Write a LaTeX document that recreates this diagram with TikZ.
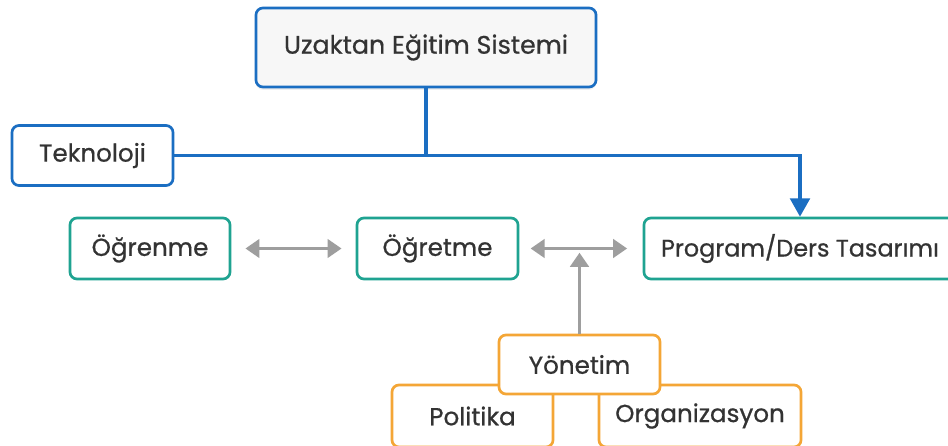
\documentclass[tikz,border=0pt]{standalone}
\usepackage{fontspec}
\setmainfont{Poppins}
\newfontfamily\boxfont{Poppins}[FakeBold=0.7]
\usetikzlibrary{positioning,arrows.meta,shadows}

\definecolor{sysblue}{HTML}{1B6EC2}
\definecolor{systeal}{HTML}{1FA391}
\definecolor{sysorange}{HTML}{F4A636}
\definecolor{systext}{HTML}{333333}
\definecolor{sysgray}{HTML}{9E9E9E}

\tikzset{
	box/.style={rectangle, rounded corners=5pt, line width=1.9pt,
		fill=white, text=systext, inner sep=0pt,
		font=\boxfont\fontsize{17.5}{20}\selectfont},
	techbox/.style={box, draw=sysblue},
	teachbox/.style={box, draw=systeal, minimum height=1.525cm},
	mgmtbox/.style={box, draw=sysorange, minimum height=1.5cm},
	grayarrow/.style={draw=sysgray, line width=2.8pt,
		{Triangle[length=10pt,width=13pt]}-{Triangle[length=10pt,width=13pt]}},
	bluearrow/.style={draw=sysblue, line width=2.2pt}
}

\begin{document}
\begin{tikzpicture}[x=0.025cm, y=-0.025cm]

\clip (0,0) rectangle (948,446);
\fill[white] (0,0) rectangle (948,446);

% Top system
\node[techbox, fill=gray!6, minimum width=8.5cm, minimum height=1.975cm,
	drop shadow={opacity=0.12, shadow xshift=0pt, shadow yshift=-2pt},
	font=\boxfont\fontsize{18}{20}\selectfont] (Sistem) at (426,47.5) {Uzaktan Eğitim Sistemi};

% Technology
\node[techbox, minimum width=4.025cm, minimum height=1.5cm] (Teknoloji) at (92.5,155.5) {Teknoloji};

% Teaching row
\node[teachbox, minimum width=4cm] (Ogrenme) at (150,248.5) {Öğrenme};
\node[teachbox, minimum width=4.025cm] (Ogretme) at (437.5,248.5) {Öğretme};
\node[teachbox, minimum width=7.8cm, font=\boxfont\fontsize{17}{20}\selectfont] (Program) at (800,248.5) {Program/Ders Tasarımı};

% Management
\node[mgmtbox, minimum width=4.025cm, minimum height=1.55cm] (Politika) at (472.5,416) {Politika};
\node[mgmtbox, minimum width=5.05cm, minimum height=1.55cm] (Organizasyon) at (700,416) {Organizasyon};
\node[mgmtbox, minimum width=4.025cm, minimum height=1.475cm] (Yonetim) at (579.5,364.5) {Yönetim};

% Blue connectors
\coordinate (Junction) at (Sistem.south |- Teknoloji.east);
\draw[bluearrow] (Sistem.south) -- (Junction);
\draw[bluearrow, -{Triangle[length=13pt,width=14pt]}]
	(Teknoloji.east) -- (Program.north |- Teknoloji.east) -- (Program.north);

% Gray connectors
\draw[grayarrow, shorten <=10pt, shorten >=10pt] (Ogrenme) -- (Ogretme);
\draw[grayarrow, shorten <=8pt, shorten >=11pt] (Ogretme.east) -- (Program.west);
\coordinate (Meet) at (Yonetim.north |- Ogretme.east);
\draw[draw=sysgray, line width=2.8pt, -{Triangle[length=10pt,width=13pt]}, shorten >=3pt]
	(Yonetim.north) -- (Meet);

\end{tikzpicture}
\end{document}
